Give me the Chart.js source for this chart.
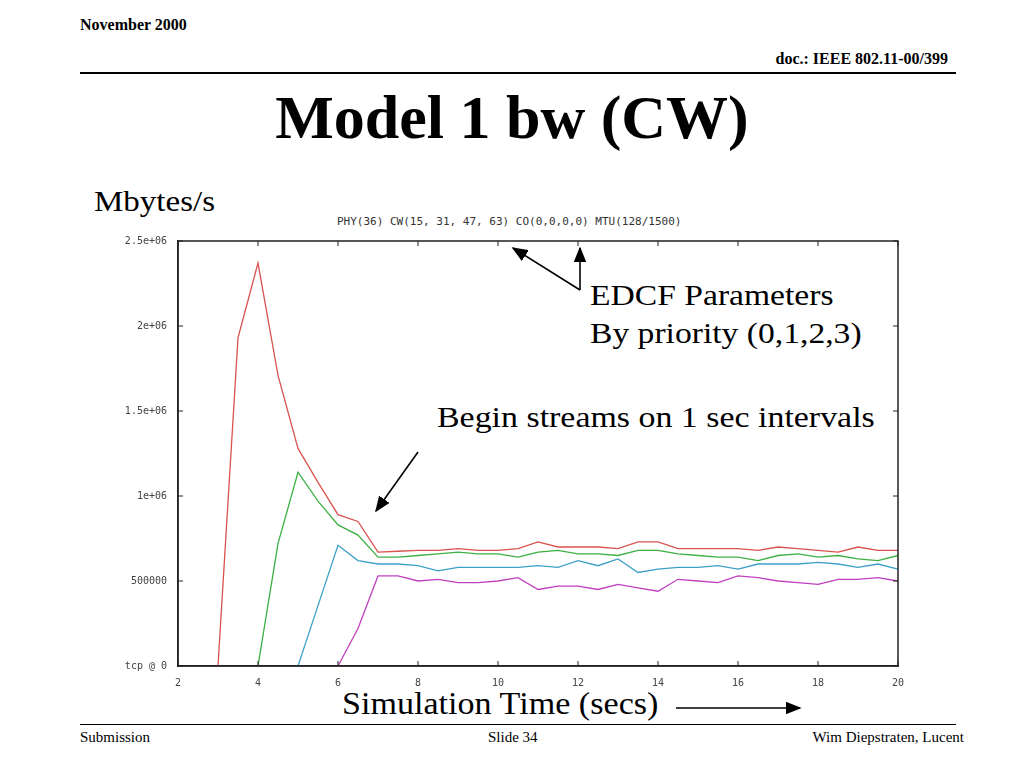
<!DOCTYPE html>
<html><head><meta charset="utf-8">
<script src="https://cdn.jsdelivr.net/npm/chart.js@4"></script>
<style>
body{margin:0;width:1024px;height:768px;background:#fff;position:relative;font-family:"Liberation Serif",serif;overflow:hidden}
.t{position:absolute;color:#000;white-space:nowrap;transform-origin:0 0}
#wrap{position:absolute;left:100px;top:232px;width:810px;height:456px}
</style></head><body>
<div class="t" style="left:80px;top:16px;font-size:16px;font-weight:bold">November 2000</div>
<div class="t" style="right:76px;top:50px;font-size:16px;font-weight:bold">doc.: IEEE 802.11-00/399</div>
<div style="position:absolute;left:80px;top:72px;width:876px;height:2px;background:#000"></div>
<div class="t" style="left:0;width:1024px;text-align:center;top:82px;font-size:62px;font-weight:bold">Model 1 bw (CW)</div>
<div class="t" style="left:94px;top:184px;font-size:30px;transform:scaleX(1.1)">Mbytes/s</div>
<div class="t" style="left:337px;top:215px;font-size:11px;font-family:'DejaVu Sans Mono',monospace;color:#333">PHY(36) CW(15, 31, 47, 63) CO(0,0,0,0) MTU(128/1500)</div>
<div class="t" style="left:590px;top:276px;font-size:30px;line-height:38px;transform:scaleX(1.12)">EDCF Parameters<br>By priority (0,1,2,3)</div>
<div class="t" style="left:437px;top:400px;font-size:30px;transform:scaleX(1.13)">Begin streams on 1 sec intervals</div>
<div class="t" style="left:342px;top:686px;font-size:31px;transform:scaleX(1.1)">Simulation Time (secs)</div>
<div style="position:absolute;left:80px;top:724px;width:876px;height:1px;background:#000"></div>
<div class="t" style="left:80px;top:729px;font-size:15px">Submission</div>
<div class="t" style="left:488px;top:729px;font-size:15px">Slide 34</div>
<div class="t" style="right:60px;top:729px;font-size:15px">Wim Diepstraten, Lucent</div>
<div id="wrap"><canvas id="c"></canvas></div>
<svg style="position:absolute;left:0;top:0" width="1024" height="768">
<defs><marker id="a" markerWidth="10" markerHeight="8" refX="9" refY="4" orient="auto"><path d="M0,0 L10,4 L0,8 z" fill="#000"/></marker></defs>
<g stroke="#000" stroke-width="1.6" fill="none">
<line x1="580" y1="290" x2="513" y2="248" marker-end="url(#a)"/>
<line x1="580" y1="290" x2="580" y2="248" marker-end="url(#a)"/>
<line x1="418" y1="452" x2="376" y2="511" marker-end="url(#a)"/>
<line x1="676" y1="708" x2="800" y2="708" marker-end="url(#a)"/>
</g></svg>
<script>
const xs=[2,2.5,3,3.5,4,4.5,5,5.5,6,6.5,7,7.5,8,8.5,9,9.5,10,10.5,11,11.5,12,12.5,13,13.5,14,14.5,15,15.5,16,16.5,17,17.5,18,18.5,19,19.5,20];
const red=[null,null,0,1.93,2.37,1.71,1.28,1.08,0.89,0.85,0.67,0.675,0.68,0.68,0.69,0.68,0.68,0.69,0.73,0.70,0.70,0.70,0.69,0.73,0.73,0.69,0.69,0.69,0.69,0.68,0.70,0.69,0.68,0.67,0.70,0.68,0.68];
const green=[null,null,null,null,0,0.72,1.14,0.97,0.83,0.77,0.64,0.64,0.65,0.66,0.67,0.66,0.66,0.64,0.67,0.68,0.66,0.66,0.65,0.68,0.68,0.66,0.65,0.64,0.64,0.62,0.65,0.66,0.64,0.65,0.63,0.62,0.65];
const cyan=[null,null,null,null,null,null,0,0.355,0.71,0.62,0.60,0.60,0.59,0.56,0.58,0.58,0.58,0.58,0.59,0.58,0.62,0.59,0.63,0.55,0.57,0.58,0.58,0.59,0.57,0.60,0.60,0.60,0.61,0.60,0.58,0.60,0.57];
const magenta=[null,null,null,null,null,null,null,null,0,0.22,0.53,0.53,0.50,0.51,0.49,0.49,0.50,0.52,0.45,0.47,0.47,0.45,0.48,0.46,0.44,0.51,0.50,0.49,0.53,0.52,0.50,0.49,0.48,0.51,0.51,0.52,0.50];
const yTicks={2500000:"2.5e+06",2000000:"2e+06",1500000:"1.5e+06",1000000:"1e+06",500000:"500000",0:"tcp @ 0"};
const mk=(arr,col)=>({data:xs.map((x,i)=>({x,y:arr[i]==null?null:arr[i]*1e6})),borderColor:col,borderWidth:1.3,pointRadius:0,tension:0,spanGaps:false});
const frame={id:'frame',afterDraw(c){const a=c.chartArea,g=c.ctx,xs_=c.scales.x,ys=c.scales.y;g.save();g.strokeStyle='#222';g.lineWidth=1.5;g.strokeRect(a.left,a.top,a.right-a.left,a.bottom-a.top);g.lineWidth=1;
for(let v=2;v<=20;v+=2){const p=xs_.getPixelForValue(v);g.beginPath();g.moveTo(p,a.top);g.lineTo(p,a.top+5);g.moveTo(p,a.bottom);g.lineTo(p,a.bottom-5);g.stroke();}
for(let v=0;v<=2500000;v+=500000){const p=ys.getPixelForValue(v);g.beginPath();g.moveTo(a.left,p);g.lineTo(a.left+5,p);g.moveTo(a.right,p);g.lineTo(a.right-5,p);g.stroke();}
g.restore();}};
new Chart(document.getElementById('c'),{type:'line',
data:{datasets:[mk(red,'#d9534f'),mk(green,'#3cb043'),mk(cyan,'#3ca0c8'),mk(magenta,'#c040c0')]},
plugins:[frame],
options:{responsive:true,maintainAspectRatio:false,animation:false,layout:{padding:{top:8,right:12}},
plugins:{legend:{display:false},tooltip:{enabled:false}},
scales:{x:{type:'linear',min:2,max:20,afterFit:s=>{s.height=22},ticks:{stepSize:2,color:'#444',font:{family:'DejaVu Sans Mono',size:10}},grid:{display:false},border:{color:'#222',width:1.5}},
y:{min:0,max:2500000,afterFit:s=>{s.width=78},ticks:{stepSize:500000,color:'#444',font:{family:'DejaVu Sans Mono',size:10},callback:v=>yTicks[v]??''},grid:{display:false},border:{color:'#222',width:1.5}}}}});
</script></body></html>
